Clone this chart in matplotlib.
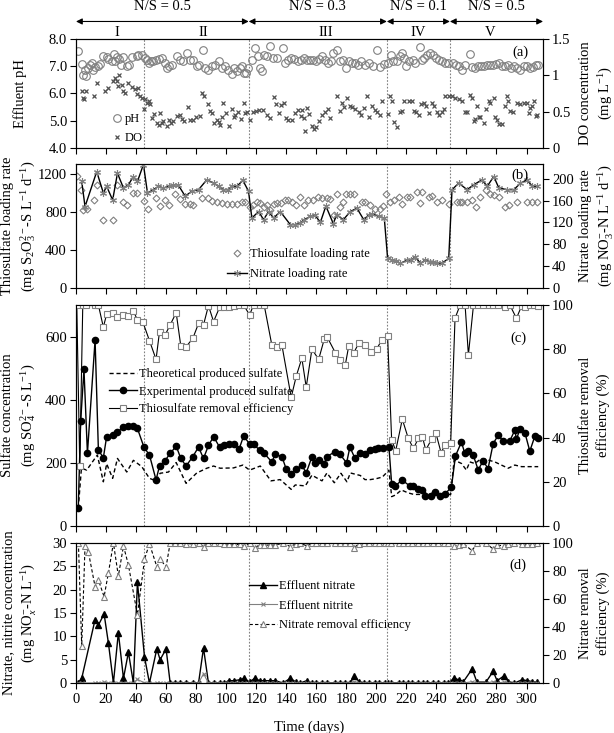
import matplotlib
matplotlib.use('Agg')
import matplotlib.pyplot as plt
from matplotlib.lines import Line2D

# ---------------- data ----------------
phase_bounds = [45, 115, 207, 249]
ns_labels = ['N/S = 0.5', 'N/S = 0.3', 'N/S = 0.1', 'N/S = 0.5']
ns_spans = [(0, 115), (115, 207), (207, 249), (249, 311)]
phase_names = ['I', 'II', 'III', 'IV', 'V']
phase_name_days = [27, 85, 166, 228, 276]

ph_days = [1, 3.8, 4.9, 6, 6.7, 8.2, 9.3, 10.4, 11.6, 12.7, 14.9, 16, 18.2, 20.4, 21.6, 23.8, 25, 26, 27.1,
           28.9, 30, 31.6, 33.8, 35, 37.1, 40.4, 41.6, 43.8,
           46, 47.1, 48.5, 50, 51.5, 53, 55, 57.1, 59.3, 60.4, 62, 64, 67.1, 69, 71, 73.8, 76, 78, 80.4, 82,
           84.4, 86, 88.2, 90.4, 92.5, 94.9, 97, 99, 101, 103.8, 105, 107, 109, 110.5, 111.6, 113.5, 114.5,
           117, 119.3, 121.5, 122.7, 124, 125.5, 127.5, 129.3, 131, 134, 137.8, 139, 141, 143, 145, 147.5,
           149.5, 151.6, 153.5, 155.5, 158, 160, 162, 164, 166, 167.5, 170, 171, 173.5, 175.5, 177.5, 179.5,
           181.5, 183.5, 185.5, 187.5, 190, 192.5, 195, 197.5, 200.4, 202.7, 205,
           208, 209.5, 211, 213.8, 215.6, 217, 218.5, 220, 222, 224.5, 226, 228.9, 230.5, 232, 234, 235.5,
           237.5, 239.5, 241.5, 244, 246, 248,
           251, 253, 255, 257, 259, 262.7, 264, 266, 268, 270, 272, 274, 276, 278, 280, 282, 284, 286, 288,
           290, 292, 294, 296, 298, 300, 302, 304, 306, 307.5]
ph_vals = [7.57, 7.08, 6.67, 6.87, 6.63, 6.95, 7.06, 7.12, 6.88, 6.96, 7.0, 7.1, 7.36, 7.33, 7.28, 7.2, 7.45, 7.18, 7.33,
           7.28, 7.05, 7.33, 7.0, 7.05, 7.33, 7.36, 7.42, 7.4,
           7.3, 7.24, 7.12, 7.18, 7.2, 7.24, 7.25, 7.3, 7.12, 6.94, 7.0, 7.06, 7.37, 7.24, 7.2, 7.49, 7.24, 7.22, 7.0, 7.06,
           7.61, 6.94, 6.88, 7.0, 7.06, 7.18, 6.94, 7.0, 6.88, 6.7, 6.94, 6.82, 6.94, 7.0, 6.76, 6.76, 6.94,
           7.24, 7.67, 7.36, 6.94, 6.82, 7.43, 7.37, 7.73, 7.3, 7.3, 7.67, 7.12, 7.24, 7.3, 7.28, 7.18,
           7.24, 7.3, 7.24, 7.24, 7.24, 7.2, 7.28, 7.37, 7.24, 7.12, 7.18, 7.49, 7.6, 7.18, 7.24, 6.94,
           7.18, 7.12, 7.12, 7.06, 7.18, 7.06, 7.12, 7.0, 7.6, 6.97, 7.1,
           7.12, 7.4, 7.18, 7.2, 7.37, 7.49, 7.3, 7.0, 7.18, 7.24, 7.12, 7.7, 7.24, 7.3, 7.43, 7.49,
           7.43, 7.3, 7.24, 7.18, 7.12, 7.12,
           7.12, 7.06, 7.0, 6.88, 7.06, 7.45, 6.97, 6.94, 7.0, 7.0, 7.0, 7.06, 7.06, 7.03, 7.09, 7.12, 7.0, 7.0, 7.06,
           6.94, 7.0, 6.94, 6.88, 7.0, 7.0, 6.94, 6.97, 7.03, 7.06]

do_days = [3.8, 4.9, 5.6, 6.7, 12.0, 13.8, 19.3, 21.6, 24.9, 26.0, 27.1, 28.0, 28.9, 30.5, 31.6, 32.7, 34.9, 37.5,
           39.3, 40.4, 41.6, 42.7, 43.8,
           45.5, 46, 47.6, 48.5, 49.3, 50.4, 52, 53.8, 55, 56, 57, 58.2, 60.4, 62.2, 63.5, 64.5, 67.1, 69.3, 70.5,
           72, 74.9, 76, 78.2, 80, 82.7, 83.8, 85.3, 87.6, 89.3, 90.5, 92, 94, 95, 96, 97, 98.2, 100, 102.2,
           103.8, 105, 106, 108.2, 110, 111.6, 112.5, 113.8,
           116, 117.8, 120, 122, 124.5, 127, 129.3, 132, 133.5, 135, 136.5, 138.2, 140, 141.5, 143.8, 146, 148,
           149.5, 150.4, 151.6, 152.7, 153.8, 154.9, 157, 158.2, 159.5, 161.6, 163.8, 166, 167.5, 169.3, 173.6,
           175.5, 177, 178.5, 180.4, 182.7, 184, 186, 188.2, 189.5, 191.6, 193.8, 194.9, 197, 199, 200.4, 202.7,
           203.8,
           208, 209.3, 210.4, 212, 213.8, 215.6, 217, 218.7, 221.6, 223.8, 224.9, 226.5, 228.2, 229.8, 231.6,
           233.3, 234.9, 237.1, 238.5, 240.4, 242, 243.8, 244.9, 246,
           248.2, 250.4, 252.7, 254.9, 257, 259.3, 260.5, 262.7, 263.8, 264.9, 266, 267.1, 268.5, 269.3, 271.6,
           272.7, 274.9, 276, 278.2, 279.3, 280.5, 281.6, 283.8, 286, 287.1, 288, 289.3, 291, 293.8, 296, 298.2,
           300.4, 301.6, 302.5, 303.8, 304.9, 306, 307]
do_vals = [0.78, 0.69, 0.68, 0.78, 0.71, 0.90, 0.79, 0.83, 0.92, 0.97, 0.92, 0.86, 1.00, 0.87, 0.79, 0.76, 0.90, 0.84,
           0.81, 0.74, 0.83, 0.71, 0.69,
           0.53, 0.67, 0.62, 0.64, 0.60, 0.41, 0.47, 0.35, 0.32, 0.48, 0.34, 0.37, 0.30, 0.38, 0.35, 0.37, 0.44, 0.46, 0.40,
           0.37, 0.57, 0.39, 0.39, 0.42, 0.44, 0.76, 0.71, 0.60, 0.51, 0.48, 0.35, 0.39, 0.36, 0.32, 0.43, 0.62, 0.48, 0.30,
           0.53, 0.43, 0.45, 0.50, 0.40, 0.62, 0.48, 0.50,
           0.38, 0.50, 0.51, 0.52, 0.52, 0.46, 0.41, 0.70, 0.60, 0.48, 0.59, 0.62, 0.41, 0.38, 0.39, 0.48, 0.52,
           0.44, 0.52, 0.41, 0.23, 0.55, 0.47, 0.30, 0.26, 0.29, 0.37, 0.46, 0.49, 0.53, 0.41, 0.71,
           0.51, 0.62, 0.57, 0.69, 0.58, 0.56, 0.53, 0.50, 0.46, 0.55, 0.71, 0.43, 0.58, 0.52, 0.50, 0.45,
           0.64,
           0.47, 0.71, 0.64, 0.36, 0.29, 0.49, 0.51, 0.64, 0.64, 0.64, 0.51, 0.49, 0.45, 0.60, 0.62,
           0.58, 0.48, 0.62, 0.58, 0.49, 0.46, 0.50, 0.54, 0.71,
           0.71, 0.71, 0.69, 0.67, 0.64, 0.50, 0.50, 0.73, 0.69, 0.37, 0.40, 0.58, 0.42, 0.43, 0.34,
           0.53, 0.64, 0.62, 0.69, 0.43, 0.39, 0.33, 0.33, 0.58, 0.71, 0.64, 0.51, 0.49, 0.62, 0.60, 0.62,
           0.62, 0.48, 0.55, 0.58, 0.64, 0.44, 0.46]

tlr_days = [0.9, 3.3, 4.9, 7.1, 12, 14.2, 18.2, 24.4, 27.1, 31.1, 34.2, 38.2, 40.4,
            45.3, 48.2, 53.3, 55.6, 59.3, 62.2, 66, 69.3, 72.7, 75.6, 78.2, 83.8, 87.6, 90.4, 93.8, 97.1,
            100.4, 103.8, 107.1, 110.4, 112.7,
            116, 117.8, 120.5, 122.2, 124.9, 127, 129.3, 132, 134, 136.5, 139.3, 141.5, 144, 146.5, 149.3, 151.6,
            154.5, 157.8, 161, 163.6, 167, 169, 171.5, 173.6, 176, 178, 180, 182.7, 184.9, 190.4, 192.5, 196,
            199.3, 202.7, 204.5,
            206.7, 209.3, 211.6, 214.9, 217, 220.4, 222.7, 227.1, 229.3, 230.4, 234.9, 237.1, 240.4, 243.8,
            248.2, 253.8, 255.5, 257, 260.4, 263.8, 266.7, 269.3, 272.7, 276, 278.2, 281.6, 286, 288.2, 293.8,
            300.4, 303.8, 307.1]
tlr_vals = [1169, 1023, 821, 832, 925, 1075, 717, 717, 1075, 900, 866, 995, 995,
            911, 832, 946, 856, 925, 873, 988, 936, 877, 877, 866, 946, 946, 911, 901, 890,
            883, 877, 883, 901, 901,
            849, 866, 900, 890, 849, 870, 821, 883, 890, 890, 925, 925, 900, 870, 953, 870,
            918, 918, 953, 945, 940, 936, 770, 988, 850, 900, 988, 988, 988, 900, 900, 866,
            832, 832, 860,
            988, 900, 918, 953, 880, 953, 953, 1005, 890, 1005, 953, 960, 900, 918,
            883, 900, 900, 900, 900, 918, 849, 953, 1023, 988, 970, 953, 849, 866, 900,
            900, 900, 900]

nlr_days = [3.8, 6.0, 13.8, 18.2, 20.4, 24.4, 27.6, 31.6, 34.9, 38.2, 40.9, 44.9,
            47.6, 51.6, 54.9, 58.2, 61.6, 64.9, 68.0, 72.7, 77.1, 81.6, 87.1, 91.6, 94.9, 98.2, 101.0, 103.8,
            107.1, 111.1, 114.9,
            117.1, 121.6, 124.9, 128.2, 131.6, 136.0, 142.7, 146, 149.3, 152, 156, 159, 162.7, 166.4, 171.3,
            173.6, 178, 182.7, 187.1, 191.6, 195, 197.1, 201.6, 205.3,
            207.5, 210.4, 213, 216, 220.4, 223, 226, 229.3, 232.5, 236, 238, 240.4, 244, 248.2,
            250.4, 254.9, 260.4, 264.9, 270.4, 273.8, 278.2, 281.6, 287.1, 291.6, 296, 300.4, 303.8, 307.1]
nlr_vals = [195, 149, 213, 174, 186, 161, 210, 183, 189, 204, 195, 226,
            174, 180, 186, 183, 186, 189, 189, 168, 177, 180, 198, 192, 186, 180, 180, 186,
            186, 197, 177,
            128, 140, 125, 140, 128, 140, 116, 116, 119, 125, 131, 134, 120, 150, 118,
            134, 125, 140, 146, 125, 134, 136, 131, 128,
            54.5, 51.4, 50, 45, 51, 51, 57, 45, 51, 48, 47, 45, 46, 54,
            180, 192, 180, 189, 198, 186, 204, 183, 180, 180, 192, 198, 186, 186]

exp_days = [1.5, 3.1, 5.3, 7.6, 12.7, 14.9, 18.2, 20.4, 24.4, 27.6, 31.6, 34.9, 38.2, 40.9, 45.3, 48.9, 53.3,
            55.6, 59.3, 62.7, 66.7, 69.8, 73.3, 77.8, 81.6, 84.9, 88.2, 91.6, 95.6, 98.7, 101.6, 104.9, 108.7,
            111.6, 115.6, 118.2, 122.2, 125.3, 130.4, 132.7, 137.1, 140, 143.3, 146.7, 150.4, 153.3, 157.1,
            159.3, 161.6, 165.3, 167.1, 172.4, 175.8, 180.2, 182.4, 185.8, 189.2, 192.4, 195.8, 199, 201.3,
            204.7, 208.4, 210.2, 212.7, 217.1, 222.2, 224.4, 227.8, 230.4, 232.7, 236.2, 239.3, 242.2, 245.6,
            250, 252.7, 256.7, 258.9, 261.1, 264.4, 267.8, 271.1, 274.4, 277.8, 281.1, 284.4, 288.9, 292.2,
            293.3, 295.6, 298.9, 302.2, 305.6, 307.8]
exp_vals = [56, 332, 496, 230, 589, 241, 216, 283, 289, 299, 312, 317, 317, 309, 249, 225, 146,
            190, 207, 230, 253, 214, 190, 220, 250, 214, 255, 283, 250, 257, 260, 260, 245,
            285, 260, 260, 240, 230, 203, 227, 220, 180, 164, 180, 193, 168, 219,
            200, 210, 197, 220, 235, 227, 200, 250, 214, 232, 227, 240, 245, 247,
            248, 250, 133, 127, 146, 127, 126, 116, 114, 95, 95, 108, 95, 101,
            123, 222, 266, 230, 236, 226, 178, 206, 182, 261, 287, 270, 269, 304,
            275, 306, 296, 237, 285, 280]

theo_days = [1.5, 3.6, 7.1, 14.2, 18.2, 20.4, 24.4, 27.6, 33.8, 38.2, 43.8, 48.9, 53.3, 56, 61.6, 66.7, 73.3,
             80.4, 87.1, 91.6, 96, 104.9, 111.1, 115.6, 122.7, 129.8, 136, 143.3, 146, 152.7, 157.1, 163.8,
             167.1, 172, 176.4, 180.4, 182.7, 189.3, 192.4, 196, 200, 204, 208.4, 210.2, 212.7, 216.7, 221.1,
             225, 228.9, 232, 235.5, 238.9, 243.3, 247.8, 249.5, 251.8, 256.7, 260, 262.2, 265.6, 270, 274.4,
             278.9, 283.3, 287.8, 292.2, 296.7, 303.3, 307.8]
theo_vals = [56, 183, 177, 225, 140, 197, 151, 214, 171, 208, 188, 151, 143, 167, 171, 201, 135,
             168, 183, 190, 183, 184, 193, 177, 190, 143, 147, 116, 130, 127, 161, 143,
             168, 137, 167, 140, 168, 160, 147, 147, 150, 155, 177, 93, 98, 114, 105,
             100, 100, 108, 100, 108, 98, 100, 100, 209, 198, 177, 203, 198, 214, 209,
             203, 193, 183, 193, 188, 188, 188]

trem_days = [0.5, 2.5, 4.5, 6.5, 12.7, 14.9, 18.2, 20.4, 24.4, 27.6, 31.6, 34.9, 38.2, 40.9, 44.4, 48.9, 53.3,
             55.6, 59.3, 62.7, 66.7, 69.8, 73.3, 77.8, 81.6, 84.9, 88.2, 91.6, 95.6, 98.7, 101.6, 104.9, 108.7,
             111.6, 115.6, 118.2, 122.2, 125.3, 130.4, 133.8, 137.1, 143.3, 146.7, 150.4, 153.3, 157.1, 161.6,
             165.3, 167.1, 172.7, 176, 179.3, 181.6, 185, 188.2, 192.4, 196.4, 200.2, 203.6, 207.5,
             210.2, 212.9, 217.3, 221.3, 224.7, 228, 230.7, 232.9, 236.9, 239.6, 243.1, 245.8, 249.5,
             252.4, 255.8, 259.1, 261.3, 264.7, 268, 271.3, 274.7, 278, 281.1, 285.6, 288.9, 293.3, 296.7,
             299, 302.2, 305, 307.8]
trem_vals = [100, 27, 100, 100, 100, 100, 90, 95.8, 96.3, 94.4, 95.5, 94.8, 97.3, 93.2, 92.5, 83.9, 75.4,
             87.9, 86.4, 91, 96.5, 81.4, 81.1, 84.9, 91.7, 91, 99.7, 92.5, 98.9, 99.3, 99.3, 99.7, 100,
             100, 95.5, 100, 100, 100, 81.9, 81.1, 81.9, 58.2, 67.9, 75.9, 62.8, 80, 75.4,
             84.5, 85.7, 78.4, 75.2, 72.8, 81.4, 78.4, 82.6, 81.9, 78.9, 80, 84.2, 86,
             38.9, 34.1, 48.3, 39.6, 35.1, 39.6, 40.3, 34.4, 39.4, 42.2, 33.2, 36.6, 37.4,
             94, 100, 100, 77.4, 100, 100, 100, 100, 100, 100, 99.1, 100, 94, 99.5,
             99, 100, 100, 99.5]

nit_days = [1.6, 3.8, 12.7, 14.9, 18.7, 21.6, 24.9, 28.2, 31.6, 34.9, 38.2, 40.9, 45.6, 48.9, 53.8, 56, 60,
            62.7, 66, 69.3, 73.3, 77.8, 81.6, 84.9, 88.2, 91.6, 95.6, 98.7, 101.6, 104.9, 109.3, 112, 115.6,
            118.9, 122.2, 125.3, 129.3, 132.7, 137.8, 142.7, 146.5, 149, 153.8, 157, 160, 164, 167.1, 172.7,
            176, 179.3, 182.7, 185.3, 188.5, 192, 195, 199, 202, 206, 208, 210, 215, 218, 221, 224, 228, 231,
            234, 238, 241, 245, 248, 251.6, 255, 258, 263.8, 267, 273, 277.8, 280.4, 284.9, 288, 292, 297.1,
            300.4, 303.8, 307.1]
nitrate_vals = [0, 1.0, 13.6, 12.4, 14.8, 8.5, 0, 10.8, 1.0, 6.6, 0, 21.6, 5.6, 0, 7.3, 5.0, 7.3,
                0, 0, 0, 0, 0, 0, 7.5, 0, 0, 0, 0, 0.5, 0.5, 0.7, 1.0, 0.2,
                1.0, 0.5, 0.5, 0.5, 0.5, 0, 1.0, 0.2, 0, 0.5, 0, 0, 0, 0, 0,
                0, 0, 0, 1.5, 0.3, 0, 0, 0, 0, 0, 0, 0, 0, 0, 0, 0, 0, 0,
                0, 0, 0, 0, 0, 1.0, 0.7, 0.3, 3.0, 0.2, 0.2, 2.5, 0.5, 1.5, 0.3, 0, 0.7,
                0.5, 0.3, 0.2]
nitrite_vals = [0, 0, 0, 0, 0.2, 0, 0, 0, 0, 0, 0, 0.8, 0, 0, 0, 0, 0,
                0, 0, 0, 0, 0, 0, 2.0, 0, 0, 0, 0, 0, 0, 0, 0, 0,
                0, 0, 0, 0, 0, 0, 0, 0, 0, 0, 0, 0, 0, 0, 0,
                0, 0, 0, 0.3, 0, 0, 0, 0, 0, 0, 0, 0, 0, 0, 0, 0, 0, 0,
                0, 0, 0, 0, 0, 0, 0, 0, 0.3, 0, 0, 0.3, 0, 0.2, 0, 0, 0,
                0, 0, 0]
nrem_days = [1.6, 3.8, 6, 8.2, 12.7, 14.9, 18.7, 21.6, 24.9, 28.2, 31.6, 34.9, 40.9, 45.6, 48.9, 53.8, 56, 60,
             62.7, 66, 69.3, 73.3, 77.8, 81.6, 84.9, 88.2, 91.6, 95.6, 98.7, 101.6, 104.9, 109.3, 112, 115.6,
             118.9, 122.2, 125.3, 129.3, 132.7, 137.8, 142.7, 146.5, 149, 153.8, 157, 160, 164, 167.1, 172.7,
             176, 179.3, 182.7, 185.3, 188.5, 192, 195, 199, 202, 206, 208, 210, 215, 218, 221, 224, 228, 231,
             234, 238, 241, 245, 248, 251.6, 255, 258, 263.8, 267, 273, 277.8, 280.4, 284.9, 288, 292, 297.1,
             300.4, 303.8, 307.1]
nrem_vals = [100, 26.4, 97.9, 93.8, 68.8, 73.6, 61.7, 78.8, 100, 76.4, 97.9, 84.3, 48.6, 88.3, 99.5, 83.1, 88.3, 83.1,
             100, 100, 100, 99.5, 99.5, 100, 97.4, 100, 100, 100, 99.5, 99, 99, 99, 97.6, 100,
             96.7, 98.5, 98.5, 98.5, 98.5, 100, 97.4, 99.5, 100, 97.9, 100, 100, 100, 100, 100,
             100, 100, 100, 96.7, 99.5, 100, 100, 100, 100, 100, 100, 100, 100, 100, 100, 100, 100, 100,
             100, 100, 100, 100, 100, 98, 98.5, 99.5, 94.5, 100, 100, 95.6, 98.5, 98, 99.5, 100, 99,
             99, 99.5, 100]

# ---------------- style ----------------
plt.rcParams['font.family'] = ['Liberation Serif', 'DejaVu Serif']
plt.rcParams['mathtext.fontset'] = 'custom'
plt.rcParams['mathtext.rm'] = 'Liberation Serif'
plt.rcParams['mathtext.it'] = 'Liberation Serif:italic'
plt.rcParams['mathtext.bf'] = 'Liberation Serif:bold'
plt.rcParams['font.size'] = 10.5
plt.rcParams['axes.linewidth'] = 0.8
plt.rcParams['xtick.direction'] = 'out'
plt.rcParams['ytick.direction'] = 'out'
plt.rcParams['xtick.major.size'] = 4
plt.rcParams['ytick.major.size'] = 4
plt.rcParams['ytick.major.pad'] = 2.5

GRAY = '#808080'
DGRAY = '#505050'
XMAX = 311

fig = plt.figure(figsize=(6.14, 7.33), dpi=100)
L, W = 0.1238, 0.7606
ax_a = fig.add_axes([L, 0.7981, W, 0.1487])
ax_b = fig.add_axes([L, 0.6071, W, 0.1692])
ax_c = fig.add_axes([L, 0.2824, W, 0.3015])
ax_d = fig.add_axes([L, 0.0682, W, 0.1910])
axes = [ax_a, ax_b, ax_c, ax_d]
twins = [ax.twinx() for ax in axes]

for ax in axes:
    ax.set_xlim(0, XMAX)
    ax.set_xticks(range(0, 301, 20))
    for b in phase_bounds:
        ax.axvline(b, color=GRAY, ls=(0, (1.5, 1.5)), lw=0.8, zorder=0)
for ax in axes[:-1]:
    ax.tick_params(axis='x', labelbottom=False)

leg_kw = dict(frameon=False, fontsize=9, handletextpad=0.2, borderaxespad=0.0)
LSP = 1.3
LEFT_X = -0.082

# (a)
ax_a.plot(ph_days, ph_vals, ls='none', marker='o', mfc='none', mec=GRAY, ms=5.5, mew=0.8)
ta = twins[0]
ta.plot(do_days, do_vals, ls='none', marker='x', color=DGRAY, ms=3.5, mew=0.9)
ax_a.set_ylim(4, 8)
ax_a.set_yticks([4, 5, 6, 7, 8])
ax_a.set_yticklabels(['4.0', '5.0', '6.0', '7.0', '8.0'])
ta.set_ylim(0, 1.5)
ta.set_yticks([0, 0.5, 1, 1.5])
ta.set_yticklabels(['0', '0.5', '1', '1.5'])
ax_a.set_ylabel('Effluent pH')
ax_a.yaxis.set_label_coords(-0.105, 0.5)
ta.set_ylabel('DO concentration\n(mg L$^{-1}$)', linespacing=LSP)
ta.yaxis.set_label_coords(1.078, 0.5)
ta.text(0.951, 0.88, '(a)', transform=ta.transAxes, ha='center', va='center')
hA = [Line2D([], [], ls='none', marker='o', mfc='none', mec=GRAY, ms=5.5, mew=0.8),
      Line2D([], [], ls='none', marker='x', color=DGRAY, ms=3.5, mew=0.9)]
ta.legend(hA, ['pH', 'DO'], loc='lower left', bbox_to_anchor=(0.067, -0.01), handlelength=0.8,
          labelspacing=0.55, **leg_kw)

# (b)
ax_b.plot(tlr_days, tlr_vals, ls='none', marker='D', mfc='none', mec=GRAY, ms=3.5, mew=0.8)
tb = twins[1]
tb.plot(nlr_days, nlr_vals, color='black', lw=1.0, marker=(6, 2, 0), mec=GRAY, ms=5, mew=0.8)
ax_b.set_ylim(0, 1300)
ax_b.set_yticks([0, 400, 800, 1200])
tb.set_ylim(0, 227)
tb.set_yticks([0, 40, 80, 120, 160, 200])
ax_b.set_ylabel('Thiosulfate loading rate\n(mg S$_2$O$_3^{2-}$-S L$^{-1}$ d$^{-1}$)', linespacing=LSP)
ax_b.yaxis.set_label_coords(LEFT_X, 0.5)
tb.set_ylabel('Nitrate loading rate\n(mg NO$_3^{-}$-N L$^{-1}$ d$^{-1}$)', linespacing=LSP)
tb.yaxis.set_label_coords(1.078, 0.5)
tb.text(0.951, 0.91, '(b)', transform=tb.transAxes, ha='center', va='center')
hB = [Line2D([], [], ls='none', marker='D', mfc='none', mec=GRAY, ms=3.5, mew=0.8),
      Line2D([], [], color='black', lw=1.0, marker=(6, 2, 0), mec=GRAY, ms=5, mew=0.8)]
tb.legend(hB, ['Thiosulfate loading rate', 'Nitrate loading rate'], loc='lower left',
          bbox_to_anchor=(0.313, 0.025), handlelength=1.6, labelspacing=0.6, **leg_kw)

# (c)
ax_c.plot(theo_days, theo_vals, color='black', ls=(0, (3, 2)), lw=1.0)
ax_c.plot(exp_days, exp_vals, color='black', lw=1.0, marker='o', ms=4.5)
tc = twins[2]
tc.plot(trem_days, trem_vals, color='black', lw=0.8, marker='s', mfc='white', mec=GRAY, ms=4.5, mew=0.8)
ax_c.set_ylim(0, 700)
ax_c.set_yticks([0, 200, 400, 600])
tc.set_ylim(0, 100)
tc.set_yticks([0, 20, 40, 60, 80, 100])
ax_c.set_ylabel('Sulfate concentration\n(mg SO$_4^{2-}$-S L$^{-1}$)', linespacing=LSP)
ax_c.yaxis.set_label_coords(LEFT_X, 0.5)
tc.set_ylabel('Thiosulfate removal\nefficiency (%)', linespacing=LSP)
tc.yaxis.set_label_coords(1.078, 0.5)
tc.text(0.947, 0.85, '(c)', transform=tc.transAxes, ha='center', va='center')
hC = [Line2D([], [], color='black', ls=(0, (3, 2)), lw=1.0),
      Line2D([], [], color='black', lw=1.0, marker='o', ms=4.5),
      Line2D([], [], color='black', lw=0.8, marker='s', mfc='white', mec=GRAY, ms=4.5, mew=0.8)]
tc.legend(hC, ['Theoretical produced sulfate', 'Experimental produced sulfate',
               'Thiosulfate removal efficiency'], loc='lower left', bbox_to_anchor=(0.06, 0.478),
          handlelength=2.2, labelspacing=0.45, **leg_kw)

# (d)
ax_d.plot(nit_days, nitrate_vals, color='black', lw=1.0, marker='^', ms=4.5)
ax_d.plot(nit_days, nitrite_vals, color=GRAY, lw=0.8, marker='x', ms=3.5, mew=0.8)
td = twins[3]
td.plot(nrem_days, nrem_vals, color='black', ls=(0, (3, 2)), lw=0.8, marker='^', mfc='white', mec=GRAY,
        ms=4.5, mew=0.8)
ax_d.set_ylim(0, 30)
ax_d.set_yticks([0, 5, 10, 15, 20, 25, 30])
td.set_ylim(0, 100)
td.set_yticks([0, 20, 40, 60, 80, 100])
ax_d.set_ylabel('Nitrate, nitrite concentration\n(mg NO$_x^{-}$-N L$^{-1}$)', linespacing=LSP)
ax_d.yaxis.set_label_coords(LEFT_X, 0.5)
td.set_ylabel('Nitrate removal\nefficiency (%)', linespacing=LSP)
td.yaxis.set_label_coords(1.078, 0.5)
td.text(0.947, 0.84, '(d)', transform=td.transAxes, ha='center', va='center')
ax_d.set_xlabel('Time (days)', labelpad=10)
hD = [Line2D([], [], color='black', lw=1.0, marker='^', ms=4.5),
      Line2D([], [], color=GRAY, lw=0.8, marker='x', ms=3.5, mew=0.8),
      Line2D([], [], color='black', ls=(0, (3, 2)), lw=0.8, marker='^', mfc='white', mec=GRAY, ms=4.5, mew=0.8)]
td.legend(hD, ['Effluent nitrate', 'Effluent nitrite', 'Nitrate removal efficiency'], loc='lower left',
          bbox_to_anchor=(0.36, 0.335), handlelength=2.2, labelspacing=0.6, **leg_kw)

# header: N/S arrows and phase names
for (x0, x1), lab in zip(ns_spans, ns_labels):
    ax_a.annotate('', xy=(x0, 0.9707), xytext=(x1, 0.9707), xycoords=('data', 'figure fraction'),
                  textcoords=('data', 'figure fraction'), annotation_clip=False,
                  arrowprops=dict(arrowstyle='<|-|>', color='black', lw=0.8, mutation_scale=9,
                                  shrinkA=0, shrinkB=0))
    ax_a.annotate(lab, xy=((x0 + x1) / 2, 0.9905), xycoords=('data', 'figure fraction'),
                  ha='center', va='center', annotation_clip=False)
for d, name in zip(phase_name_days, phase_names):
    ax_a.annotate(name, xy=(d, 0.9563), xycoords=('data', 'figure fraction'),
                  ha='center', va='center', annotation_clip=False)

fig.savefig('out.png', dpi=100)
